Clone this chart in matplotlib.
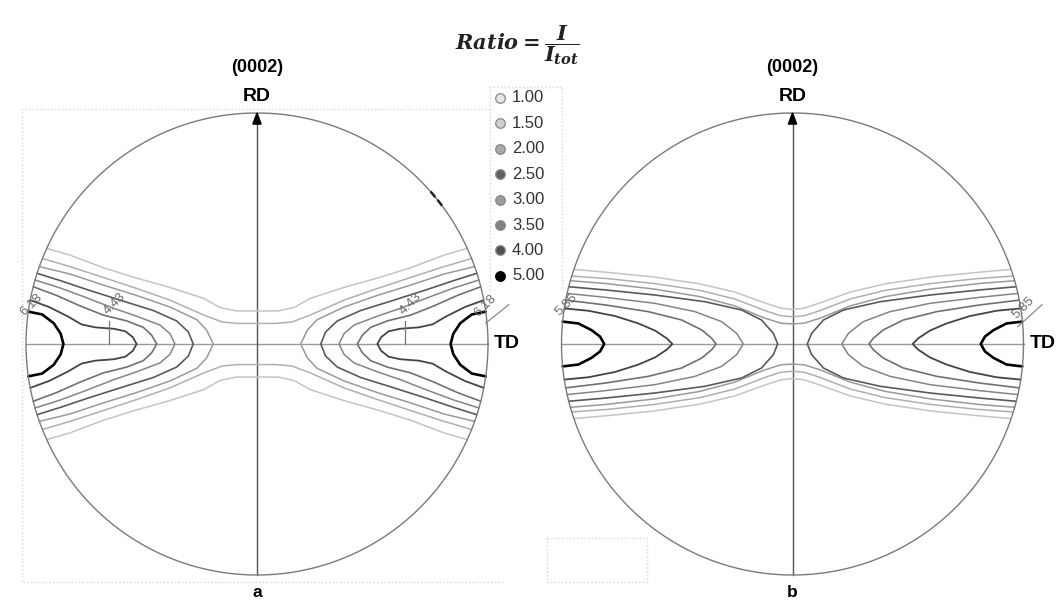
import numpy as np
import matplotlib
matplotlib.use('Agg')
import matplotlib.pyplot as plt

# ---------------- data ----------------
LEVELS = [1.0, 1.5, 2.0, 2.5, 3.0, 3.5, 4.0, 5.0]
LEVEL_LABELS = ['1.00', '1.50', '2.00', '2.50', '3.00', '3.50', '4.00', '5.00']

# upper-left quarter of each contour, normalised pole-figure units (radius 1),
# from the circle edge inwards; last point is either the tip on TD (y=0) or the RD axis (x=0)
A_100 = [(-0.910, 0.414), (-0.81, 0.385), (-0.665, 0.330), (-0.52, 0.285), (-0.377, 0.245), (-0.232, 0.198), (-0.16, 0.158), (-0.09, 0.143), (0.0, 0.143)]
A_150 = [(-0.929, 0.370), (-0.81, 0.335), (-0.665, 0.288), (-0.52, 0.240), (-0.377, 0.190), (-0.23, 0.125), (-0.15, 0.095), (-0.08, 0.089), (0.0, 0.089)]
A_200 = [(-0.942, 0.335), (-0.81, 0.303), (-0.665, 0.255), (-0.52, 0.210), (-0.377, 0.160), (-0.26, 0.105), (-0.218, 0.060), (-0.189, 0.0)]
A_250 = [(-0.952, 0.306), (-0.853, 0.275), (-0.737, 0.236), (-0.593, 0.190), (-0.449, 0.145), (-0.348, 0.100), (-0.297, 0.052), (-0.276, 0.0)]
A_300 = [(-0.961, 0.277), (-0.853, 0.243), (-0.737, 0.200), (-0.622, 0.155), (-0.52, 0.120), (-0.42, 0.082), (-0.377, 0.045), (-0.355, 0.0)]
A_350 = [(-0.969, 0.248), (-0.867, 0.210), (-0.766, 0.165), (-0.665, 0.125), (-0.564, 0.100), (-0.492, 0.072), (-0.456, 0.038), (-0.434, 0.0)]
A_400 = [(-0.982, 0.190), (-0.90, 0.160), (-0.82, 0.120), (-0.76, 0.085), (-0.70, 0.072), (-0.62, 0.066), (-0.57, 0.055), (-0.538, 0.030), (-0.521, 0.0)]
A_500 = [(-0.990, 0.140), (-0.93, 0.128), (-0.88, 0.090), (-0.85, 0.045), (-0.838, 0.0)]

B_100 = [(-0.946, 0.323), (-0.80, 0.310), (-0.60, 0.290), (-0.40, 0.260), (-0.25, 0.225), (-0.12, 0.178), (-0.05, 0.155), (0.0, 0.150)]
B_150 = [(-0.955, 0.294), (-0.80, 0.283), (-0.60, 0.262), (-0.40, 0.232), (-0.25, 0.195), (-0.12, 0.145), (-0.05, 0.122), (0.0, 0.118)]
B_200 = [(-0.962, 0.274), (-0.81, 0.262), (-0.60, 0.238), (-0.40, 0.205), (-0.25, 0.165), (-0.12, 0.112), (-0.05, 0.090), (0.0, 0.087)]
B_250 = [(-0.969, 0.248), (-0.81, 0.234), (-0.595, 0.212), (-0.379, 0.183), (-0.22, 0.147), (-0.134, 0.104), (-0.083, 0.046), (-0.064, 0.0)]
B_300 = [(-0.976, 0.219), (-0.81, 0.202), (-0.595, 0.176), (-0.422, 0.140), (-0.307, 0.097), (-0.242, 0.046), (-0.213, 0.0)]
B_350 = [(-0.982, 0.190), (-0.81, 0.169), (-0.624, 0.140), (-0.48, 0.104), (-0.393, 0.061), (-0.35, 0.025), (-0.331, 0.0)]
B_400 = [(-0.988, 0.154), (-0.884, 0.144), (-0.768, 0.121), (-0.667, 0.089), (-0.595, 0.058), (-0.545, 0.025), (-0.52, 0.0)]
B_500 = [(-0.995, 0.097), (-0.927, 0.089), (-0.87, 0.060), (-0.833, 0.032), (-0.815, 0.0)]

A_MAX_LABEL = '6.18'
A_SEC_LABEL = '4.43'
A_SEC_X = 0.642          # position of the secondary maxima on TD
B_MAX_LABEL = '5.85'
PANEL_TITLES = ['(0002)', '(0002)']
PANEL_LETTERS = ['a', 'b']

# ---------------- style ----------------
LINE_COLORS = ['#c4c4c4', '#b0b0b0', '#9a9a9a', '#5a5a5a', '#858585', '#707070', '#444444', '#000000']
LINE_WIDTHS = [1.1, 1.1, 1.1, 1.2, 1.1, 1.2, 1.3, 1.9]
MARK_COLORS = ['#e6e6e6', '#cfcfcf', '#a9a9a9', '#5f5f5f', '#9c9c9c', '#808080', '#505050', '#000000']

W, H = 1061, 602
plt.rcParams['font.family'] = ['Liberation Sans', 'DejaVu Sans']
plt.rcParams['mathtext.fontset'] = 'custom'
plt.rcParams['mathtext.rm'] = 'DejaVu Serif:bold'
plt.rcParams['mathtext.it'] = 'DejaVu Serif:italic:bold'
plt.rcParams['mathtext.bf'] = 'DejaVu Serif:italic:bold'

fig = plt.figure(figsize=(W / 100, H / 100), dpi=100)
fig.patch.set_facecolor('white')

# overlay axes in pixel coordinates for figure-level annotations
ov = fig.add_axes([0, 0, 1, 1])
ov.set_xlim(0, W)
ov.set_ylim(H, 0)
ov.axis('off')

R = 231.0
L = 1.14


def make_ax(cx, cy):
    ax = fig.add_axes([(cx - L * R) / W, (H - cy - L * R) / H, 2 * L * R / W, 2 * L * R / H])
    ax.set_xlim(-L, L)
    ax.set_ylim(-L, L)
    ax.axis('off')
    ax.patch.set_alpha(0)
    return ax


def curves_of(pts):
    p = np.array(pts, float)
    p[0] = p[0] / np.hypot(p[0, 0], p[0, 1])
    x, y = p[:, 0], p[:, 1]
    if y[-1] == 0:
        lx = np.concatenate([x, x[-2::-1]])
        ly = np.concatenate([y, -y[-2::-1]])
        return [(lx, ly), (-lx, ly)]
    ux = np.concatenate([x, -x[-2::-1]])
    uy = np.concatenate([y, y[-2::-1]])
    return [(ux, uy), (ux, -uy)]


def draw_panel(ax, contours, title, letter):
    th = np.linspace(0, 2 * np.pi, 400)
    ax.plot(np.cos(th), np.sin(th), color='#7a7a7a', lw=1.0, zorder=3)
    ax.plot([-1, 1], [0, 0], color='#9a9a9a', lw=1.0, zorder=1)
    ax.plot([0, 0], [-1, 0.96], color='#555555', lw=1.0, zorder=1)
    ax.fill([-0.018, 0.018, 0.0], [0.952, 0.952, 1.0], color='black', zorder=4)
    for i, pts in enumerate(contours):
        for cx, cy in curves_of(pts):
            ax.plot(cx, cy, color=LINE_COLORS[i], lw=LINE_WIDTHS[i], zorder=2,
                    solid_joinstyle='round', solid_capstyle='round')
    ax.text(0, 1.195, title, ha='center', va='center', fontsize=13, fontweight='bold', clip_on=False)
    ax.text(0, 1.07, 'RD', ha='center', va='center', fontsize=14, fontweight='bold', clip_on=False)
    ax.text(1.025, 0.0, 'TD', ha='left', va='center', fontsize=14, fontweight='bold', clip_on=False)
    ax.text(0, -1.075, letter, ha='center', va='center', fontsize=12.5, fontweight='bold', clip_on=False)


axA = make_ax(257, 344)
axB = make_ax(792.5, 344)
draw_panel(axA, [A_100, A_150, A_200, A_250, A_300, A_350, A_400, A_500], PANEL_TITLES[0], PANEL_LETTERS[0])
draw_panel(axB, [B_100, B_150, B_200, B_250, B_300, B_350, B_400, B_500], PANEL_TITLES[1], PANEL_LETTERS[1])

# small dark marks on the rim of panel a (upper right)
for a0 in (40.4, 37.7):
    t = np.radians(np.linspace(a0 - 0.6, a0 + 0.6, 5))
    axA.plot(np.cos(t), np.sin(t), color='#222222', lw=1.8, zorder=4)

lab_kw = dict(ha='center', va='center', fontsize=9.5, color='#6a6a6a', rotation=45, clip_on=False, zorder=5)
# maxima labels panel a
axA.text(-0.975, 0.17, A_MAX_LABEL, **lab_kw)
axA.text(0.99, 0.165, A_MAX_LABEL, **lab_kw)
axA.plot([0.99, 1.09], [0.09, 0.17], color='#8a8a8a', lw=0.9)
for s in (-1, 1):
    axA.plot([s * A_SEC_X, s * A_SEC_X], [0, 0.10], color='#777777', lw=0.9)
    axA.text(s * A_SEC_X + 0.025, 0.175, A_SEC_LABEL, **lab_kw)
# maxima labels panel b
axB.text(-0.978, 0.17, B_MAX_LABEL, **lab_kw)
axB.text(1.0, 0.155, B_MAX_LABEL, **lab_kw)
axB.plot([0.975, 1.08], [0.075, 0.17], color='#8a8a8a', lw=0.9)

# formula
ov.text(517, 45, r'$Ratio = \dfrac{I}{I_{tot}}$', ha='center', va='center', fontsize=15, color='#222222')

# legend
for i, (lab, mc) in enumerate(zip(LEVEL_LABELS, MARK_COLORS)):
    yy = 98 + 25.4 * i
    ov.scatter([500], [yy], s=48, facecolor=mc, edgecolor='#888888' if i < 7 else 'black', lw=0.9, zorder=5)
    ov.text(512, yy, lab, ha='left', va='center', fontsize=12, color='#333333')

# faint dotted selection boxes present in the source image
dot = dict(color='#d6d6d6', lw=1.0, ls=':')
ov.plot([490, 490, 562, 562], [290, 87, 87, 290], **dot)
ov.plot([490, 22, 22, 503], [109, 109, 582, 582], **dot)
ov.plot([547, 647, 647, 547, 547], [538, 538, 582, 582, 538], **dot)

fig.savefig('out.png', dpi=100, facecolor='white')
